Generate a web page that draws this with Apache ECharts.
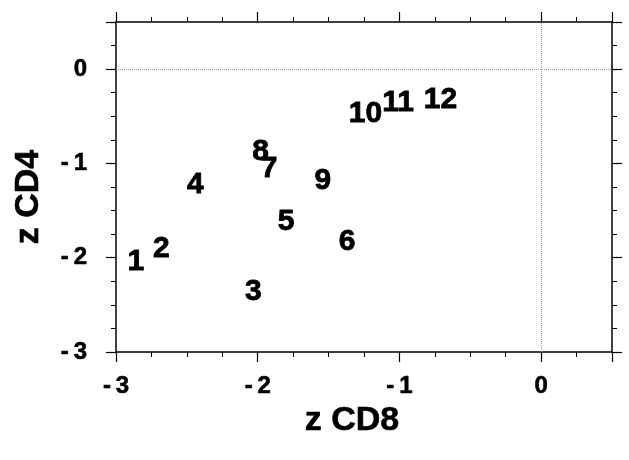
<!DOCTYPE html>
<html>
<head>
<meta charset="utf-8">
<script src="https://cdn.jsdelivr.net/npm/echarts@6/dist/echarts.min.js"></script>
<style>
  html, body { margin: 0; padding: 0; background: #fff; }
  #chart { width: 629px; height: 460px; }
</style>
</head>
<body>
<div id="chart"></div>
<script>
// point labels and their positions (z CD8, z CD4)
const labels = ['1', '2', '3', '4', '5', '6', '7', '8', '9', '10', '11', '12'];
const zCD8 = [-2.86, -2.68, -2.03, -2.44, -1.80, -1.37, -1.92, -1.98, -1.54, -1.24, -1.01, -0.71];
const zCD4 = [-2.04, -1.91, -2.36, -1.23, -1.62, -1.83, -1.06, -0.88, -1.18, -0.47, -0.36, -0.32];
const refX = 0;
const refY = 0;

const font = 'Liberation Sans';
const black = '#000';

const points = labels.map((l, i) => ({ name: l, value: [zCD8[i], zCD4[i]] }));

// tick text as in the figure: a gap between the minus and the digit
function tickText(v) {
  if (v === 0.5) return '';
  return v < 0 ? '-\u2009' + Math.abs(v) : String(v);
}

const tickFont = {
  fontFamily: font, fontWeight: 'bold', fontSize: 24, color: black,
  textBorderColor: black, textBorderWidth: 0.6
};
const nameFont = {
  fontFamily: font, fontWeight: 'bold', fontSize: 34, color: black,
  textBorderColor: black, textBorderWidth: 0.6
};

// shared axis look: outside ticks, minor ticks at 0.25
function frameAxis(extra) {
  return Object.assign({
    type: 'value',
    min: -3,
    max: 0.5,
    interval: 1,
    axisLine: { show: true, onZero: false, lineStyle: { color: black, width: 1.5 } },
    axisTick: { show: true, length: 10, lineStyle: { color: black, width: 1.2 } },
    minorTick: { show: true, splitNumber: 4, length: 5, lineStyle: { color: black, width: 1 } },
    splitLine: { show: false },
    axisLabel: { show: false }
  }, extra);
}

const option = {
  animation: false,
  grid: { left: 116, right: 17, top: 22, bottom: 108 },
  xAxis: [
    frameAxis({
      position: 'bottom',
      name: 'z CD8',
      nameLocation: 'middle',
      nameGap: 45,
      nameTextStyle: Object.assign({ padding: [0, 24, 0, 0] }, nameFont),
      axisLabel: Object.assign({ show: true, margin: 22, formatter: tickText }, tickFont)
    }),
    frameAxis({ position: 'top' })
  ],
  yAxis: [
    frameAxis({
      position: 'left',
      name: 'z CD4',
      nameLocation: 'middle',
      nameGap: 70,
      nameTextStyle: Object.assign({ padding: [0, 20, 0, 0] }, nameFont),
      axisLabel: Object.assign({ show: true, margin: 29, formatter: tickText }, tickFont)
    }),
    frameAxis({ position: 'right' })
  ],
  series: [{
    type: 'scatter',
    data: points,
    symbol: 'circle',
    symbolSize: 2,
    itemStyle: { color: 'rgba(0,0,0,0)' },
    label: {
      show: true,
      position: 'inside',
      formatter: p => p.name,
      fontFamily: font,
      fontWeight: 'bold',
      fontSize: 30,
      color: black,
      opacity: 1,
      textBorderColor: black,
      textBorderWidth: 0.8
    },
    labelLayout: { hideOverlap: false },
    markLine: {
      silent: true,
      symbol: 'none',
      label: { show: false },
      lineStyle: { color: '#999', type: 'dotted', width: 1 },
      data: [{ xAxis: refX }, { yAxis: refY }]
    }
  }]
};

echarts.init(document.getElementById('chart')).setOption(option);
</script>
</body>
</html>
